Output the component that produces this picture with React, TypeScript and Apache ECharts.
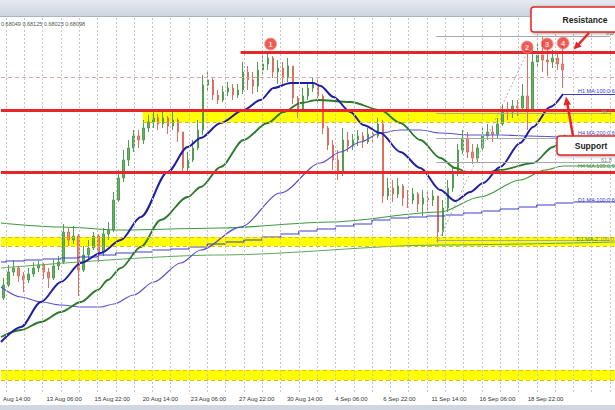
import React, { useEffect, useRef } from 'react';
import * as echarts from 'echarts';

// AUDUSD hourly chart, 12 Aug - 19 Sep, squeezed: one candle here ~ 6-7 hourly bars
const firstOpen = 0.6579;
const closes = [
  0.6592, 0.6605, 0.6609, 0.6601, 0.6597, 0.6603, 0.6609, 0.6612, 0.6605, 0.6599,
  0.6611, 0.6615, 0.6645, 0.6637, 0.6641, 0.6607, 0.6622, 0.6629, 0.6641, 0.6625,
  0.6643, 0.6647, 0.6677, 0.6699, 0.6717, 0.6729, 0.6741, 0.6737, 0.6749, 0.6755,
  0.6759, 0.6753, 0.6759, 0.6751, 0.6757, 0.6745, 0.6709, 0.6717, 0.6729, 0.6747,
  0.6792, 0.6797, 0.6782, 0.6777, 0.6785, 0.6789, 0.6782, 0.6787, 0.6805, 0.6797,
  0.6791, 0.6807, 0.6813, 0.6819, 0.6805, 0.6809, 0.6799, 0.6811, 0.6779, 0.6767,
  0.6781, 0.6789, 0.6793, 0.6781, 0.6749, 0.6732, 0.6717, 0.6705, 0.6737, 0.6731,
  0.6737, 0.6741, 0.6735, 0.6743, 0.6741, 0.6753, 0.6681, 0.6689, 0.6683, 0.6691,
  0.6679, 0.6677, 0.6683, 0.6673, 0.6679, 0.6677, 0.6681, 0.6645, 0.6669, 0.6689,
  0.6705, 0.6727, 0.6739, 0.6725, 0.6719, 0.6729, 0.6741, 0.6745, 0.6743, 0.6753,
  0.6767, 0.6765, 0.6771, 0.6769, 0.6781, 0.6767, 0.6815, 0.6822, 0.6817, 0.6815,
  0.6819, 0.6813, 0.6807,
];
const highs = [
  0.6599, 0.6612, 0.6617, 0.6611, 0.6605, 0.6609, 0.6615, 0.6616, 0.6614, 0.6609,
  0.6617, 0.6621, 0.6653, 0.6649, 0.6651, 0.6643, 0.6631, 0.6637, 0.6645, 0.6643,
  0.6649, 0.6655, 0.6685, 0.6707, 0.6727, 0.6737, 0.6747, 0.6747, 0.6757, 0.6762,
  0.6765, 0.6763, 0.6765, 0.6761, 0.6765, 0.6759, 0.6745, 0.6725, 0.6737, 0.6757,
  0.6802, 0.6805, 0.6799, 0.6787, 0.6791, 0.6795, 0.6793, 0.6793, 0.6815, 0.6811,
  0.6805, 0.6815, 0.6821, 0.6825, 0.6821, 0.6817, 0.6815, 0.6819, 0.6811, 0.6781,
  0.6789, 0.6795, 0.6799, 0.6797, 0.6783, 0.6751, 0.6737, 0.6727, 0.6749, 0.6745,
  0.6743, 0.6747, 0.6745, 0.6749, 0.6749, 0.6759, 0.6757, 0.6699, 0.6697, 0.6699,
  0.6693, 0.6687, 0.6689, 0.6685, 0.6687, 0.6685, 0.6687, 0.6681, 0.6677, 0.6697,
  0.6711, 0.6733, 0.6747, 0.6745, 0.6733, 0.6733, 0.6749, 0.6753, 0.6751, 0.6759,
  0.6773, 0.6775, 0.6777, 0.6777, 0.6793, 0.6825, 0.6829, 0.6833, 0.6840, 0.6829,
  0.6827, 0.6825, 0.6831,
];
const lows = [
  0.6577, 0.6590, 0.6601, 0.6595, 0.6585, 0.6594, 0.6600, 0.6605, 0.6598, 0.6589,
  0.6597, 0.6607, 0.6613, 0.6631, 0.6633, 0.6581, 0.6605, 0.6617, 0.6627, 0.6615,
  0.6621, 0.6637, 0.6645, 0.6675, 0.6695, 0.6711, 0.6725, 0.6729, 0.6733, 0.6745,
  0.6749, 0.6747, 0.6749, 0.6743, 0.6747, 0.6735, 0.6703, 0.6705, 0.6715, 0.6727,
  0.6742, 0.6785, 0.6777, 0.6773, 0.6775, 0.6781, 0.6777, 0.6779, 0.6783, 0.6787,
  0.6783, 0.6785, 0.6803, 0.6807, 0.6799, 0.6793, 0.6791, 0.6795, 0.6773, 0.6759,
  0.6765, 0.6777, 0.6785, 0.6775, 0.6743, 0.6727, 0.6707, 0.6697, 0.6701, 0.6725,
  0.6727, 0.6731, 0.6729, 0.6733, 0.6735, 0.6739, 0.6674, 0.6677, 0.6675, 0.6679,
  0.6671, 0.6669, 0.6673, 0.6665, 0.6661, 0.6667, 0.6671, 0.6634, 0.6641, 0.6665,
  0.6685, 0.6701, 0.6723, 0.6719, 0.6713, 0.6715, 0.6727, 0.6737, 0.6735, 0.6739,
  0.6751, 0.6757, 0.6759, 0.6761, 0.6767, 0.6747, 0.6765, 0.6811, 0.6805, 0.6801,
  0.6809, 0.6807, 0.6789,
];
const emptyBars = 10; // blank space right of the last candle

// x positions below are in candle units (0 = left edge, 123 = right edge)
const tickPos = [0.4, 9.1, 18.74, 28.38, 38.02, 47.66, 57.3, 66.94, 76.58, 86.22, 95.86, 105.5];
const tickLabels = [
  'Aug 14:00', '13 Aug 06:00', '15 Aug 22:00', '20 Aug 14:00', '23 Aug 06:00', '27 Aug 22:00',
  '30 Aug 14:00', '4 Sep 06:00', '6 Sep 22:00', '11 Sep 14:00', '16 Sep 06:00', '18 Sep 22:00',
];

// moving averages [x, price]
const h1Ma100 = [
  [0, 0.6535], [4, 0.655], [8, 0.6575], [12, 0.6595], [16, 0.6614], [20, 0.6624], [24, 0.6637],
  [28, 0.666], [33.4, 0.6705], [37.4, 0.673], [40, 0.6739], [44, 0.6754], [48.6, 0.6767],
  [52, 0.6777], [54.6, 0.6789], [58, 0.6794], [62.6, 0.6794], [64, 0.6791], [66.6, 0.678],
  [70, 0.6765], [72.6, 0.6752], [76, 0.6744], [80, 0.6725], [84, 0.6709], [88, 0.6687],
  [91, 0.6676], [94, 0.6685], [96.6, 0.6694], [100, 0.671], [104, 0.6734], [106.6, 0.675],
  [110, 0.677], [112.6, 0.6783],
];
const h1Ma200 = [
  [0, 0.654], [4, 0.6547], [8, 0.6555], [12, 0.6565], [16, 0.6575], [19.4, 0.6587], [21.4, 0.6597],
  [24, 0.6609], [28, 0.663], [32, 0.6657], [37.4, 0.668], [40, 0.669], [44, 0.671], [48.6, 0.6737],
  [53.4, 0.6754], [56.6, 0.6765], [60, 0.6774], [63.4, 0.6777], [70, 0.6775], [76, 0.6767],
  [80, 0.6754], [84, 0.6737], [88, 0.6719], [91, 0.6709], [93.4, 0.6705], [96.6, 0.6704],
  [100, 0.6707], [106.6, 0.6714], [110.6, 0.673], [113, 0.6742],
];
const h4Ma200 = [
  [0, 0.659], [4, 0.658], [8, 0.6575], [12, 0.6572], [16, 0.657], [20, 0.657], [22.6, 0.6573],
  [26.6, 0.6582], [30.6, 0.6595], [36, 0.6614], [40, 0.6627], [48, 0.665], [56, 0.6684],
  [64, 0.6714], [68, 0.6725], [72, 0.6735], [76, 0.6744], [80, 0.6747], [84, 0.6747],
  [88, 0.6744], [94, 0.6742], [100, 0.6742], [106, 0.6741], [113, 0.674], [123, 0.674],
];
const h4Ma100 = [
  [0, 0.6654], [12, 0.665], [24, 0.6647], [44, 0.6649], [66, 0.6655], [88, 0.6665], [96, 0.668],
  [104, 0.6697], [109, 0.6707], [112.6, 0.6711], [123, 0.6711],
];
const d1Ma200 = [[0, 0.6609], [44, 0.6622], [88, 0.6632], [123, 0.6635]];
// one value per trading day (day lines every 3.667 candles)
const d1Ma100Daily = [
  0.6615, 0.6616, 0.6617, 0.6618, 0.6619, 0.662, 0.6622, 0.6624, 0.6625, 0.6627, 0.6628,
  0.663, 0.6633, 0.6635, 0.6637, 0.664, 0.6643, 0.6646, 0.6648, 0.6651, 0.6653, 0.6657,
  0.6659, 0.666, 0.6661, 0.6662, 0.6664, 0.6666, 0.6668, 0.667, 0.6672, 0.6674, 0.6675,
];

// drawn levels
const resistance = 0.6825;
const resistanceFrom = 48;
const redLevels = [0.6767, 0.6705];
const dashedLevels = [0.6825, 0.6774];
const yellowBands = [
  { top: 0.6766, bottom: 0.6755, from: 28.4 },
  { top: 0.664, bottom: 0.6631, from: 0 },
  { top: 0.6507, bottom: 0.6497, from: 0 },
];
const fibLevels = [0.6841, 0.6764, 0.6739, 0.6715, 0.6637];
const fibFrom = 87.2;
const fibTo = 122;
const fibSwing = [[87.4, 0.6634], [105.8, 0.6829]];
const peaks = [[54, 0.6833], [105.4, 0.683], [109.4, 0.6833], [112.6, 0.6834]];
const peakLabels = ['1', '2', '3', '4'];

const FONT = 'Liberation Sans';
const dayStart = (k: number) => (k === 0 ? 0 : 1 + (k - 1) * (11 / 3));

const label = (text: string, x: number, y: number, color: string) => ({
  type: 'text', x, y, z: 30,
  style: { text, fill: color, fontSize: 5.5, fontFamily: FONT, textVerticalAlign: 'middle', verticalAlign: 'middle' },
});

const App: React.FC = () => {
  const chartRef = useRef<HTMLDivElement>(null);

  useEffect(() => {
    if (!chartRef.current) return;
    const chart = echarts.init(chartRef.current, null, { renderer: 'svg' });

    const candles: any[] = closes.map((c, i) => {
      const o = i === 0 ? firstOpen : closes[i - 1];
      return [o, c, Math.min(lows[i], o, c), Math.max(highs[i], o, c)];
    });
    for (let k = 0; k < emptyBars; k++) candles.push('-');
    const cats = candles.map((_, i) => String(i));

    const d1Ma100 = d1Ma100Daily.map((v, k) => [dayStart(k), v]);
    d1Ma100.push([123, d1Ma100Daily[d1Ma100Daily.length - 1]]);

    const gridXs: number[] = [];
    for (let k = 1; dayStart(k) < 123; k++) gridXs.push(dayStart(k));

    const seg = (x1: number, x2: number, y: number) => [{ coord: [x1, y] }, { coord: [x2, y] }];
    const last = h1Ma100[h1Ma100.length - 1];

    const maLine = (name: string, data: number[][], color: string, width: number, extra = {}) => ({
      name, type: 'line', xAxisIndex: 1, data, symbol: 'none', smooth: 0.3, smoothMonotone: 'x',
      lineStyle: { color, width }, z: 4, silent: true, ...extra,
    });

    const option: any = {
      animation: false,
      backgroundColor: '#ffffff',
      grid: { left: 0, right: 0, top: 17, bottom: 18 },
      xAxis: [
        { type: 'category', data: cats, show: false, boundaryGap: true, position: 'top' },
        {
          type: 'value', min: 0, max: 123, position: 'bottom',
          axisLine: { show: false }, axisTick: { show: false }, splitLine: { show: false },
          axisLabel: {
            customValues: tickPos,
            formatter: (v: number) => {
              const k = tickPos.findIndex((p) => Math.abs(p - v) < 0.01);
              return k >= 0 ? tickLabels[k] : '';
            },
            align: 'left', fontSize: 6, fontFamily: FONT, color: '#333', margin: 4,
          },
        },
      ],
      yAxis: { type: 'value', min: 0.6485, max: 0.686, show: false },
      series: [
        {
          type: 'line', xAxisIndex: 1, data: [], z: 1, silent: true,
          markArea: {
            silent: true, itemStyle: { color: '#ffff00' },
            data: yellowBands.map((b) => [{ coord: [b.from, b.top] }, { coord: [123, b.bottom] }]),
          },
          markLine: {
            silent: true, symbol: ['none', 'none'], label: { show: false },
            lineStyle: { color: '#e0bc00', type: [4, 3], width: 1 },
            data: yellowBands.flatMap((b) => [seg(b.from, 123, b.top), seg(b.from, 123, b.bottom)]),
          },
        },
        {
          type: 'line', xAxisIndex: 1, data: [], z: 2, silent: true,
          markLine: {
            silent: true, symbol: ['none', 'none'], label: { show: false },
            lineStyle: { color: '#c4c4c4', type: [2, 2], width: 1 },
            data: gridXs.map((x) => ({ xAxis: x })),
          },
        },
        {
          type: 'candlestick', xAxisIndex: 0, data: candles, z: 3, barWidth: 2, silent: true,
          itemStyle: {
            color: '#66b266', color0: '#e88a80', borderColor: '#4f9f4f', borderColor0: '#dc6e62', borderWidth: 1,
          },
        },
        maLine('D1 MA 200', d1Ma200, '#5aa65a', 1),
        maLine('D1 MA 100', d1Ma100, '#3c3cd2', 1.2, { smooth: false, step: 'end' }),
        maLine('H4 MA 100', h4Ma100, '#3f9a3f', 1.2),
        maLine('H4 MA 200', h4Ma200, '#5a50d0', 1.2),
        maLine('H1 MA 200', h1Ma200, '#2b7a2b', 1.8),
        maLine('H1 MA 100', h1Ma100, '#1f1fa6', 2, {
          markLine: {
            silent: true, symbol: ['none', 'none'], label: { show: false },
            lineStyle: { color: '#3c3cd2', type: 'solid', width: 1 },
            data: [seg(last[0], 123, last[1])],
          },
        }),
        {
          type: 'line', xAxisIndex: 1, data: [], z: 5, silent: true,
          markLine: {
            silent: true, symbol: ['none', 'none'], label: { show: false },
            lineStyle: { color: '#e9a3a3', type: [4, 3], width: 1 },
            data: dashedLevels.map((v) => ({ yAxis: v })),
          },
        },
        {
          type: 'line', xAxisIndex: 1, data: [], z: 6, silent: true,
          markLine: {
            silent: true, symbol: ['none', 'none'], label: { show: false },
            lineStyle: { color: '#a8a8a8', type: 'solid', width: 1 },
            data: [
              ...fibLevels.map((v) => seg(fibFrom, fibTo, v)),
              [
                { coord: fibSwing[0], lineStyle: { type: [2, 2], color: '#b0b0b0' } },
                { coord: fibSwing[1] },
              ],
            ],
          },
        },
        {
          type: 'line', xAxisIndex: 1, data: [], z: 7, silent: true,
          markLine: {
            silent: true, symbol: ['none', 'none'], label: { show: false },
            lineStyle: { color: '#e8262a', type: 'solid', width: 3 },
            data: [seg(resistanceFrom, 123, resistance), ...redLevels.map((v) => seg(0, 123, v))],
          },
        },
        {
          type: 'scatter', xAxisIndex: 1, data: peaks, z: 8, silent: true, symbolSize: 12,
          itemStyle: { color: '#e8322b', borderColor: '#f4a09a', borderWidth: 1 },
          label: {
            show: true, position: 'inside', color: '#fff', fontSize: 7.5, fontWeight: 'bold', fontFamily: FONT,
            formatter: (p: any) => peakLabels[p.dataIndex],
          },
        },
      ],
      graphic: [
        {
          type: 'rect', z: 20, shape: { x: 0, y: 0, width: 615, height: 16 },
          style: { fill: new echarts.graphic.LinearGradient(0, 0, 0, 1, [
            { offset: 0, color: '#e6eaf0' }, { offset: 1, color: '#cdd4de' },
          ]) },
        },
        { type: 'line', z: 20, shape: { x1: 0, y1: 16.5, x2: 615, y2: 16.5 }, style: { stroke: '#a9b3c1', lineWidth: 1 } },
        { type: 'rect', z: 20, shape: { x: 0, y: 405, width: 615, height: 5 }, style: { fill: '#d0d7e1' } },
        {
          type: 'text', x: 1, y: 23.5, z: 30,
          style: { text: '0.68049 0.68125 0.68023 0.68098', fill: '#555', fontSize: 5.5, fontFamily: FONT, textVerticalAlign: 'middle', verticalAlign: 'middle' },
        },
        label('0.0', 606, 33, '#888'),
        label('H1 MA:100:0.6', 578, 90.5, '#3535c8'),
        label('38.2', 601, 112, '#888'),
        label('H4 MA:200:0.6', 578, 132.5, '#4a44cc'),
        label('61.8', 601, 160, '#888'),
        label('H4 MA:100:0.6', 578, 166, '#3a8f3a'),
        label('D1 MA:100:0.6', 578, 200, '#3535c8'),
        label('D1 MA:2', 576.5, 239, '#3a8f3a'),
        label('100.0', 600, 239, '#888'),
        // resistance callout
        {
          type: 'rect', z: 40, shape: { x: 531, y: 7, width: 110, height: 25, r: 3 },
          style: { fill: '#fff', stroke: '#e02828', lineWidth: 1.5, shadowBlur: 3, shadowColor: 'rgba(0,0,0,0.35)', shadowOffsetX: 1, shadowOffsetY: 1 },
        },
        {
          type: 'text', x: 585, y: 19.5, z: 41,
          style: { text: 'Resistance', fill: '#222', fontSize: 8.5, fontWeight: 'bold', fontFamily: FONT, textAlign: 'center', align: 'center', textVerticalAlign: 'middle', verticalAlign: 'middle' },
        },
        { type: 'line', z: 40, shape: { x1: 589, y1: 33, x2: 577, y2: 46 }, style: { stroke: '#e62828', lineWidth: 2.5 } },
        { type: 'polygon', z: 40, shape: { points: [[573.5, 49.5], [581.6, 46.4], [576.2, 41.4]] }, style: { fill: '#e62828' } },
        // support callout
        {
          type: 'rect', z: 40, shape: { x: 557, y: 136, width: 70, height: 19, r: 3 },
          style: { fill: '#fff', stroke: '#e02828', lineWidth: 1.5, shadowBlur: 3, shadowColor: 'rgba(0,0,0,0.35)', shadowOffsetX: 1, shadowOffsetY: 1 },
        },
        {
          type: 'text', x: 591, y: 146, z: 41,
          style: { text: 'Support', fill: '#222', fontSize: 8.5, fontWeight: 'bold', fontFamily: FONT, textAlign: 'center', align: 'center', textVerticalAlign: 'middle', verticalAlign: 'middle' },
        },
        { type: 'line', z: 40, shape: { x1: 573, y1: 136, x2: 567.4, y2: 104 }, style: { stroke: '#e62828', lineWidth: 2.5 } },
        { type: 'polygon', z: 40, shape: { points: [[566, 96.5], [571, 104.5], [563.6, 105.6]] }, style: { fill: '#e62828' } },
      ],
    };

    chart.setOption(option);

    return () => {
      chart.dispose();
    };
  }, []);

  return <div ref={chartRef} style={{ position: 'fixed', left: 0, top: 0, width: '615px', height: '410px' }} />;
};

export default App;
